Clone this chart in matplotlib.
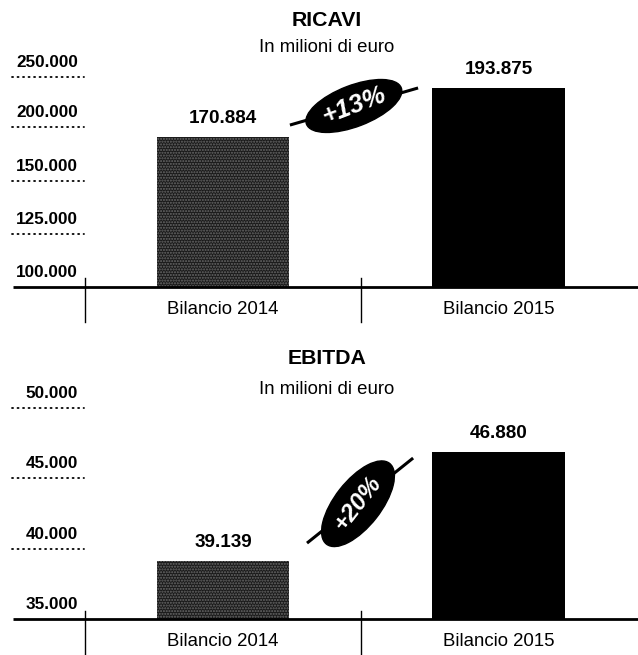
import matplotlib
matplotlib.use("Agg")
import matplotlib.pyplot as plt
from matplotlib import font_manager

# carattere stretto se disponibile
nomi = {f.name for f in font_manager.fontManager.ttflist}
if 'Liberation Sans Narrow' in nomi:
    FAM, K = 'Liberation Sans Narrow', 1.0
else:
    FAM, K = 'Liberation Sans', 0.85
plt.rcParams['font.family'] = [FAM, 'DejaVu Sans']

# dati
categorie = ["Bilancio 2014", "Bilancio 2015"]
ricavi = [170.884, 193.875]
ricavi_lab = ["170.884", "193.875"]
ebitda = [39.139, 46.880]
ebitda_lab = ["39.139", "46.880"]
ricavi_var = "+13%"
ebitda_var = "+20%"

# scala asse come nell'originale (non in proporzione sopra 150.000)
ricavi_tick = [100, 125, 150, 175.5, 199]
ricavi_tick_lab = ["100.000", "125.000", "150.000", "200.000", "250.000"]
ebitda_tick = [35, 40, 45, 50]
ebitda_tick_lab = ["35.000", "40.000", "45.000", "50.000"]

W, H = 638, 655
fig = plt.figure(figsize=(W / 100, H / 100), dpi=100)

X0 = -0.809
X1 = 1.506


def pannello(rect, base, top, valori, etichette, ticks, tick_lab, titolo, y_tit, y_sub, sep, var, ell, lin):
    ax = fig.add_axes(rect)
    ax.set_xlim(X0, X1)
    ax.set_ylim(base, top)
    ax.axis('off')
    x = [0, 1]
    # barra 2014 retinata, 2015 nera
    ax.bar(x[0], valori[0] - base, bottom=base, width=0.48, color='#1a1a1a', linewidth=0)
    ax.bar(x[0], valori[0] - base, bottom=base, width=0.48, facecolor='none',
           edgecolor='#6a6a6a', hatch='......', linewidth=0)
    ax.bar(x[1], valori[1] - base, bottom=base, width=0.48, color='black', linewidth=0)
    for xi, v, lab in zip(x, valori, etichette):
        ax.annotate(lab, (xi, v), xytext=(0, 7), textcoords='offset points',
                    ha='center', va='bottom', fontsize=16 * K, fontweight='bold')
    # asse
    ax.plot([-0.762, X1], [base, base], color='black', lw=2.0, solid_capstyle='butt', clip_on=False)
    for s in [-0.5, 0.5]:
        ax.plot([s, s], [sep[0], sep[1]], color='black', lw=1.0, clip_on=False)
    for xi, c in zip(x, categorie):
        ax.annotate(c, (xi, base), xytext=(0, -10), textcoords='offset points',
                    ha='center', va='top', fontsize=15.8 * K)
    # etichette asse y
    for t, tl in zip(ticks, tick_lab):
        ax.annotate(tl, (-0.526, t), xytext=(0, 5), textcoords='offset points',
                    ha='right', va='bottom', fontsize=14.5 * K, fontweight='bold')
        if t != base:
            ax.plot([-0.766, -0.505], [t, t], color='black', lw=1.3,
                    linestyle=(0, (0.6, 2.45)), dash_capstyle='round')
    # titolo
    fig.text(327 / W, 1 - y_tit / H, titolo, ha='center', va='center', fontsize=18 * K, fontweight='bold')
    fig.text(327 / W, 1 - y_sub / H, "In milioni di euro", ha='center', va='center', fontsize=15.8 * K)
    # variazione
    ax.plot(lin[0], lin[1], color='black', lw=2.2, solid_capstyle='butt')
    ax.text(ell[0], ell[1], var, rotation=ell[2], rotation_mode='anchor', ha='center', va='center',
            color='white', fontsize=ell[3], fontweight='bold', fontstyle='italic',
            bbox=dict(boxstyle='ellipse,pad=%.2f' % ell[4], fc='black', ec='black'))
    return ax


pannello([0, (H - 287) / H, 1, 287 / H], 100, 235.4, ricavi, ricavi_lab,
         ricavi_tick, ricavi_tick_lab, "RICAVI", 20, 47, (104.2, 83.5),
         ricavi_var, (0.475, 185.4, 21, 18.5, 0.1), ([0.243, 0.708], [176.4, 193.9]))

pannello([0, (H - 619) / H, 1, 289 / H], 35, 55.56, ebitda, ebitda_lab,
         ebitda_tick, ebitda_tick_lab, "EBITDA", 358, 390, (35.6, 32.4),
         ebitda_var, (0.49, 43.2, 52, 17.5, 0.2), ([0.305, 0.69], [40.4, 46.45]))

fig.savefig("out.png", dpi=100, facecolor='white')
